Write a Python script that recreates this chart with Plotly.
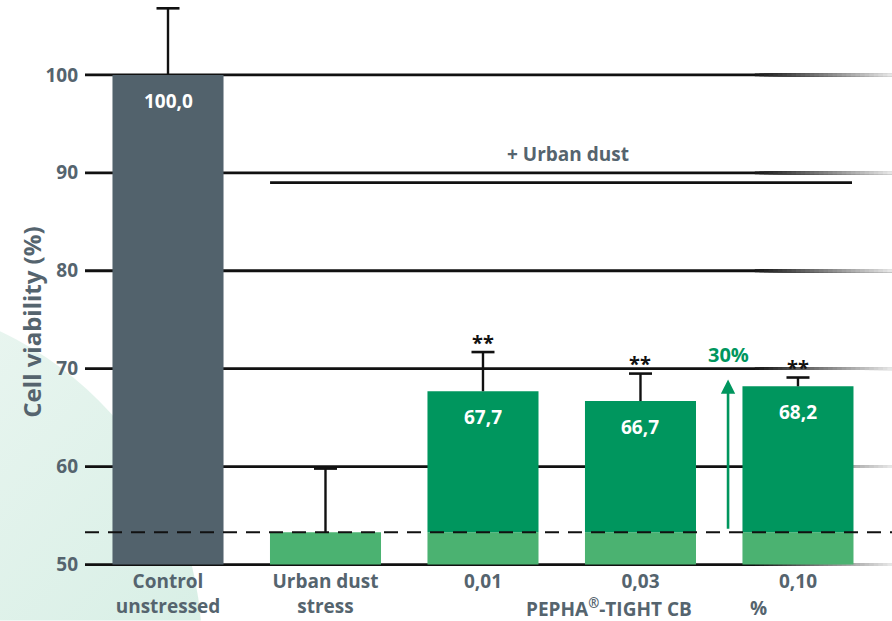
import base64
import plotly.graph_objects as go

# data
categories = ['Control<br>unstressed', 'Urban dust<br>stress', '0,01', '0,03', '0,10']
viability = [100.0, 53.3, 67.7, 66.7, 68.2]
error_plus = [6.8, 6.5, 4.0, 2.8, 0.9]
value_labels = ['100,0', '', '67,7', '66,7', '68,2']
stars = ['', '', '**', '**', '**']
urban_dust_level = 53.3
y_ticks = [50, 60, 70, 80, 90, 100]

FONT = 'Open Sans'
SLATE = '#52626c'
TEXT_GRAY = '#55646e'
DARK_GREEN = '#00965e'
LIGHT_GREEN = '#4bb271'

W, H = 892, 621
M_L, M_B = 85, 53.5
X_RANGE = [-0.527, 4.597]
Y_RANGE = [49.75, 107.65]

x = list(range(len(categories)))

# the lower part of every stressed bar is the urban dust level (light green)
base_part = [0] + [urban_dust_level] * 4
upper_part = [viability[0] - 50] + [0] + [v - urban_dust_level for v in viability[2:]]
base_colors = [SLATE] + [LIGHT_GREEN] * 4
upper_colors = [SLATE, LIGHT_GREEN, DARK_GREEN, DARK_GREEN, DARK_GREEN]

fig = go.Figure()

fig.add_trace(go.Bar(
    x=x,
    y=[b - 50 if b else 0 for b in base_part],
    base=50,
    width=0.705,
    marker=dict(color=base_colors, line=dict(width=0)),
    hoverinfo='skip',
))
fig.add_trace(go.Bar(
    x=x,
    y=upper_part,
    base=[50, urban_dust_level, urban_dust_level, urban_dust_level, urban_dust_level],
    width=0.705,
    marker=dict(color=upper_colors, line=dict(width=0)),
    hoverinfo='skip',
))

# soft mint circle in the lower left corner (background decoration with a gradient)
svg = f'''<svg xmlns="http://www.w3.org/2000/svg" width="{W}" height="{H}" viewBox="0 0 {W} {H}">
<defs><linearGradient id="g" x1="0" y1="0" x2="1" y2="1">
<stop offset="0.3" stop-color="#ebf6f1"/><stop offset="1" stop-color="#cdebdf"/></linearGradient></defs>
<circle cx="-150" cy="650" r="352" fill="url(#g)"/></svg>'''
plot_w, plot_h = W - M_L, H - M_B
fig.add_layout_image(
    source='data:image/svg+xml;base64,' + base64.b64encode(svg.encode()).decode(),
    xref='paper', yref='paper', x=-M_L / plot_w, y=1,
    sizex=W / plot_w, sizey=H / plot_h, sizing='stretch',
    xanchor='left', yanchor='top', layer='below',
)

# gridlines that fade out to the right: overlapping segments, each lighter one on top
def faded_line(y, x_fade=0.83, steps=30):
    fig.add_shape(type='line', xref='paper', yref='y', x0=0, x1=1, y0=y, y1=y,
                  line=dict(color='#111111', width=2.8), layer='below')
    for i in range(steps):
        t = (i + 1) / steps
        c = int(17 + (230 - 17) * t)
        fig.add_shape(type='line', xref='paper', yref='y',
                      x0=x_fade + (1 - x_fade) * i / steps, x1=1,
                      y0=y, y1=y, line=dict(color=f'rgb({c},{c},{c})', width=2.8), layer='below')

for t in y_ticks:
    faded_line(t)

# one-sided error bars: whisker from the bar top plus a cap
for xi, v, e in zip(x, viability, error_plus):
    fig.add_shape(type='line', xref='x', yref='y', x0=xi, x1=xi, y0=v, y1=v + e,
                  line=dict(color='#111111', width=2.4))
    fig.add_shape(type='line', xref='x', yref='y', xsizemode='pixel', xanchor=xi,
                  x0=-11.5, x1=11.5, y0=v + e, y1=v + e,
                  line=dict(color='#111111', width=2.6))

# dashed urban dust reference
fig.add_shape(type='line', xref='paper', yref='y', x0=0, x1=1,
              y0=urban_dust_level, y1=urban_dust_level,
              line=dict(color='#111111', width=2.2, dash='14px,9px'))

# "+ Urban dust" bracket line
fig.add_shape(type='line', xref='x', yref='y', x0=0.648, x1=4.343, y0=89.0, y1=89.0,
              line=dict(color='#111111', width=2.8))
fig.add_annotation(x=2.54, y=91.9, text='<b>+ Urban dust</b>', showarrow=False,
                   font=dict(family=FONT, size=19, color=TEXT_GRAY))

# value labels inside bars
for xi, v, lab in zip(x, viability, value_labels):
    if lab:
        fig.add_annotation(x=xi, y=v, yshift=-26, text=f'<b>{lab}</b>', showarrow=False,
                           font=dict(family=FONT, size=19, color='white'))

# significance stars
for xi, v, e, s in zip(x, viability, error_plus, stars):
    if s:
        fig.add_annotation(x=xi, y=v + e, yshift=10, text=f'<b>{s}</b>', showarrow=False,
                           font=dict(family=FONT, size=20, color='#111111'))

# green 30% arrow
fig.add_annotation(x=3.556, y=68.9, ax=3.556, ay=53.5, xref='x', yref='y', axref='x', ayref='y',
                   text='', showarrow=True, arrowhead=2, arrowsize=1.1, arrowwidth=2.6,
                   arrowcolor=DARK_GREEN)
fig.add_annotation(x=3.56, y=71.4, text='<b>30%</b>', showarrow=False,
                   font=dict(family=FONT, size=20, color=DARK_GREEN))

# y axis title, placed like the reference (a little below the plot centre)
fig.add_annotation(xref='paper', x=(32 - M_L) / plot_w, y=74.7, textangle=-90,
                   xanchor='center', yanchor='middle',
                   text='<b>Cell viability (%)</b>', showarrow=False,
                   font=dict(family=FONT, size=24, color=TEXT_GRAY))

# product caption below the concentrations
fig.add_annotation(x=2.8, y=50, yshift=-43, text='<b>PEPHA<sup>®</sup>-TIGHT CB</b>',
                   showarrow=False, font=dict(family=FONT, size=19, color=TEXT_GRAY))
fig.add_annotation(x=3.75, y=50, yshift=-43, text='<b>%</b>',
                   showarrow=False, font=dict(family=FONT, size=19, color=TEXT_GRAY))

fig.update_layout(
    width=W, height=H,
    barmode='overlay',
    showlegend=False,
    margin=dict(l=M_L, r=0, t=0, b=M_B),
    paper_bgcolor='white',
    plot_bgcolor='rgba(0,0,0,0)',
    font=dict(family=FONT, color=TEXT_GRAY),
    xaxis=dict(
        range=X_RANGE,
        tickvals=x,
        ticktext=[f'<b>{c}</b>' for c in categories],
        tickfont=dict(family=FONT, size=19, color=TEXT_GRAY),
        showgrid=False, zeroline=False, showline=False, ticks='',
        ticklabelstandoff=1,
        automargin=False,
    ),
    yaxis=dict(
        range=Y_RANGE,
        tickvals=y_ticks,
        ticktext=[f'<b>{t}</b>' for t in y_ticks],
        tickfont=dict(family=FONT, size=19, color=TEXT_GRAY),
        showgrid=False, zeroline=False, showline=False, ticks='',
        ticklabelstandoff=6,
        automargin=False,
    ),
)

# the default page adds an 8px body margin; remove it so the chart fills the window
fig.write_html('out.html', config={'displayModeBar': False},
               post_script="document.body.style.margin='0';")
